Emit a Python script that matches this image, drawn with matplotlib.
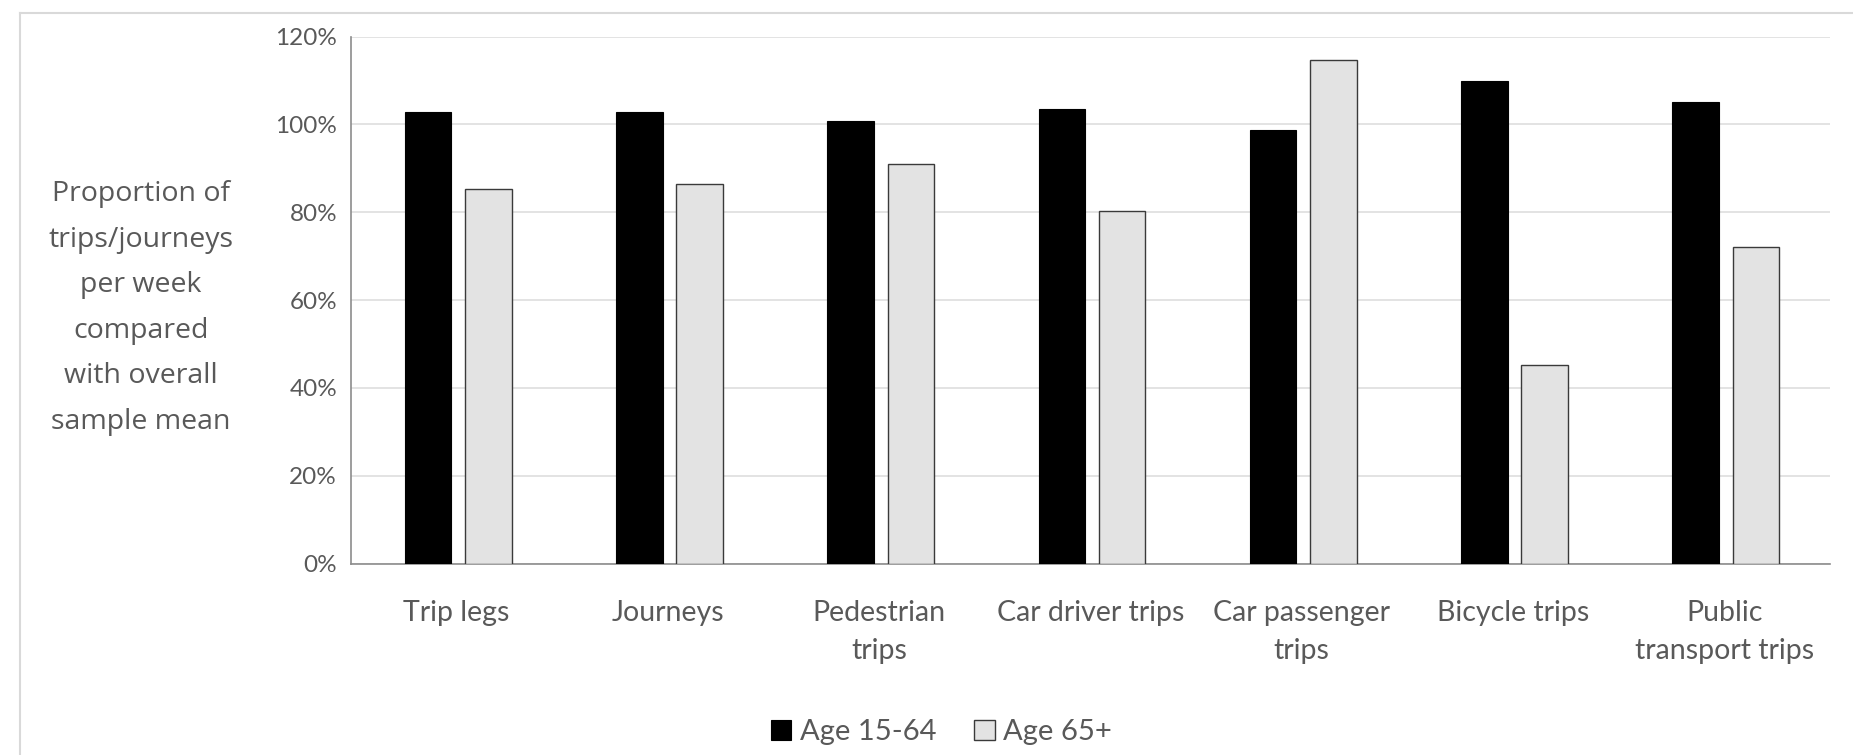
import matplotlib
matplotlib.use("Agg")
import matplotlib.pyplot as plt
import numpy as np
from matplotlib.lines import Line2D

categories = ['Trip legs', 'Journeys', 'Pedestrian\ntrips', 'Car driver trips',
              'Car passenger\ntrips', 'Bicycle trips', 'Public\ntransport trips']
age_15_64 = [102.8, 102.8, 100.8, 103.6, 98.8, 109.8, 105.1]
age_65_plus = [85.2, 86.5, 91.1, 80.3, 114.6, 45.2, 72.1]
series_names = ['Age 15-64', 'Age 65+']
yticks = [0, 20, 40, 60, 80, 100, 120]

txt = '#595959'
plt.rcParams['font.family'] = ['Lato', 'DejaVu Sans']

fig = plt.figure(figsize=(18.53, 7.55), dpi=100)
# light grey chart frame (top and left edges visible)
fx, fy = 20 / 1853, 1 - 12.5 / 755
fig.lines.append(Line2D([fx, 1], [fy, fy], transform=fig.transFigure,
                        color='#d9d9d9', linewidth=1.5))
fig.lines.append(Line2D([fx, fx], [0, fy], transform=fig.transFigure,
                        color='#d9d9d9', linewidth=1.5))

ax = fig.add_axes([0.1894, 0.2534, 0.7981, 0.6981])
x = np.arange(len(categories))
w = 0.22
ax.bar(x - 0.135, age_15_64, w, color='black', edgecolor='black', linewidth=0.8,
       label=series_names[0], zorder=3)
ax.bar(x + 0.15, age_65_plus, w, color='#e3e3e3', edgecolor='#3a3a3a', linewidth=1.0,
       label=series_names[1], zorder=3)

ax.set_xlim(-0.5, len(categories) - 0.5)
ax.set_ylim(0, 120)
ax.set_yticks(yticks)
ax.set_yticklabels([f'{v}%' for v in yticks])
ax.set_xticks(x)
ax.set_xticklabels(categories, linespacing=1.6)
ax.tick_params(axis='y', length=0, pad=10, labelsize=17.5, labelcolor=txt)
ax.tick_params(axis='x', length=0, pad=26, labelsize=20.5, labelcolor=txt)
ax.grid(axis='y', color='#dedede', linewidth=1.2, zorder=0)
for s in ['top', 'right']:
    ax.spines[s].set_visible(False)
for s in ['left', 'bottom']:
    ax.spines[s].set_color('#8c8c8c')
    ax.spines[s].set_linewidth(1.2)

fig.text(0.076, 0.592, 'Proportion of\ntrips/journeys\nper week\ncompared\nwith overall\nsample mean',
         ha='center', va='center', fontsize=20.5, color=txt, linespacing=1.83,
         family=['Open Sans', 'DejaVu Sans'])

fig.legend(*ax.get_legend_handles_labels(), loc='center', bbox_to_anchor=(0.508, 0.03),
           bbox_transform=fig.transFigure, ncol=2, frameon=False,
           fontsize=21, labelcolor=txt, handlelength=0.7, handleheight=0.7,
           handletextpad=0.3, columnspacing=1.3)

fig.savefig('out.png', dpi=100)
